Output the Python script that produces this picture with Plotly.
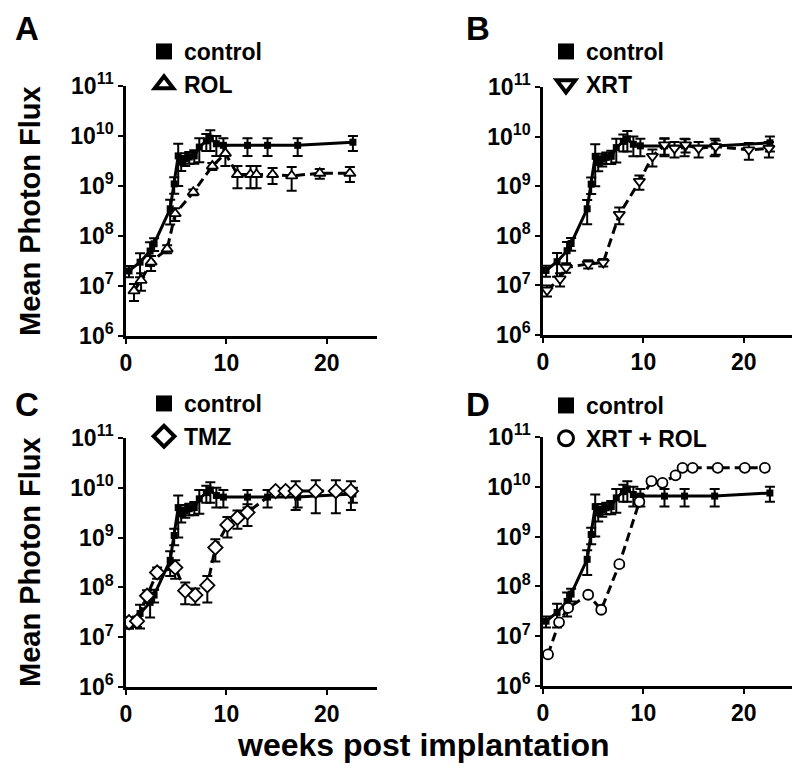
import plotly.graph_objects as go

# ---------------- data ----------------
weeks_control = [0.3, 1.4, 2.4, 2.8, 4.4, 4.8, 5.2, 5.5, 5.9, 6.3, 6.8, 7.3, 8.0, 8.4, 9.0, 9.7, 12.1, 14.1, 17.1, 22.6]
flux_control = [2e7, 3e7, 5e7, 7e7, 3.5e8, 1.1e9, 4e9, 3e9, 3.5e9, 3.8e9, 4e9, 6e9, 8e9, 9e9, 7e9, 6.5e9, 6.5e9, 6.5e9, 6.5e9, 7.5e9]
err_control = [5e6, 1.5e7, 2.5e7, 2e7, 1.8e8, 4e8, 3e9, 1e9, 1e9, 1e9, 1.2e9, 3e9, 3e9, 4e9, 3e9, 2.5e9, 2.5e9, 2.5e9, 2.5e9, 2.5e9]

weeks_rol = [0.8, 1.5, 2.5, 4.1, 4.9, 6.7, 8.6, 9.9, 11.1, 12.4, 13.0, 14.6, 16.5, 19.3, 22.3]
flux_rol = [8e6, 1.3e7, 3e7, 5.5e7, 2.8e8, 7.5e8, 2.5e9, 4.5e9, 1.7e9, 1.7e9, 1.7e9, 1.7e9, 1.6e9, 1.8e9, 1.8e9]
err_rol = [3e6, 5e6, 1e7, 1e7, 8e7, 1e8, 4e8, 2e9, 8e8, 8e8, 8e8, 6e8, 8e8, 4e8, 6e8]

weeks_xrt = [0.4, 1.7, 2.3, 4.5, 6.0, 7.6, 9.6, 10.9, 12.1, 13.1, 14.2, 15.5, 17.2, 20.5, 22.5]
flux_xrt = [8e6, 1.35e7, 2.3e7, 2.7e7, 2.9e7, 2.7e8, 1.25e9, 4e9, 6.8e9, 5.8e9, 6.8e9, 5.8e9, 6.3e9, 5.4e9, 5.8e9]
err_xrt = [2e6, 4e6, 5e6, 5e6, 5e6, 1e8, 4e8, 1.5e9, 2.5e9, 2e9, 2e9, 2e9, 2e9, 2e9, 2e9]

weeks_tmz = [0.3, 1.1, 2.1, 3.1, 4.9, 5.9, 6.9, 8.1, 8.9, 10.1, 11.1, 12.1, 14.9, 15.9, 16.9, 18.9, 20.9, 22.4]
flux_tmz = [2e7, 2.1e7, 6.8e7, 2e8, 2.5e8, 8.6e7, 7e7, 1.1e8, 6.3e8, 1.8e9, 2.5e9, 3.2e9, 8.6e9, 8.6e9, 8.6e9, 8.6e9, 8.6e9, 8.6e9]
err_tmz = [5e6, 5e6, 2e7, 5e7, 1e8, 4e7, 2.5e7, 6e7, 3e8, 8e8, 1e9, 1.5e9, 1e9, 1e9, 5e9, 5.5e9, 5.5e9, 5e9]

weeks_xrtrol = [0.5, 1.6, 2.5, 4.5, 5.8, 7.6, 9.6, 10.8, 11.9, 13.2, 13.9, 14.9, 17.4, 20.1, 22.1]
flux_xrtrol = [4.3e6, 1.9e7, 3.7e7, 6.8e7, 3.4e7, 2.8e8, 5e9, 1.3e10, 1.2e10, 1.7e10, 2.4e10, 2.4e10, 2.4e10, 2.4e10, 2.4e10]
err_xrtrol = [4e5, 2e6, 4e6, 7e6, 3e6, 3e7, 5e8, 1.3e9, 1.2e9, 1.7e9, 2.4e9, 2.4e9, 2.4e9, 2.4e9, 2.4e9]

panel_letters = ["A", "B", "C", "D"]
treat_names = ["ROL", "XRT", "TMZ", "XRT + ROL"]
y_tickvals = [1e6, 1e7, 1e8, 1e9, 1e10, 1e11]
y_ticktext = ["10<sup>6</sup>", "10<sup>7</sup>", "10<sup>8</sup>", "10<sup>9</sup>", "10<sup>10</sup>", "10<sup>11</sup>"]
x_tickvals = [0, 10, 20]

# ---------------- layout geometry ----------------
OFF = 8                      # page body margin of the html page
W, H = 800 - OFF, 775 - OFF
FONT = "Arial, Liberation Sans, sans-serif"


def px(x):
    return (x - OFF) / W


def py(y):
    return 1 - (y - OFF) / H


treat_data = [(weeks_rol, flux_rol, err_rol), (weeks_xrt, flux_xrt, err_xrt),
              (weeks_tmz, flux_tmz, err_tmz), (weeks_xrtrol, flux_xrtrol, err_xrtrol)]
treat_symbols = ["triangle-up", "triangle-down", "diamond", "circle"]
treat_sizes = [10, 10, 11, 10]
legend_sizes = [16, 16, 18, 15]
legend_lw = [4, 4, 4, 3]
# pixel boxes in window coords (left, right, top, bottom)
boxes = [(126, 377, 86, 336), (543, 794, 87, 335), (126, 377, 438, 687), (543, 794, 437, 686)]
legend_pos = [(144, 30), (546, 30), (144, 382), (546, 384)]
letter_pos = [(27, 8), (478, 8), (27, 384), (478, 384)]

fig = go.Figure()
layout = {}
for i in range(4):
    sx = "" if i == 0 else str(i + 1)
    xa, ya = "x" + sx, "y" + sx
    lg = "legend" + sx
    l, r, t, b = boxes[i]
    common = dict(showline=True, linecolor="black", linewidth=2.5, ticks="outside",
                  tickwidth=2, ticklen=5, tickcolor="black", showgrid=False, zeroline=False,
                  automargin=False,
                  tickfont=dict(family=FONT, size=23, color="black", weight="bold"))
    layout["xaxis" + sx] = dict(common, domain=[px(l), px(r)], anchor=ya, range=[0, 25],
                                tickvals=x_tickvals, ticktext=[str(v) for v in x_tickvals])
    layout["yaxis" + sx] = dict(common, domain=[py(b), py(t)], anchor=xa, type="log",
                                range=[6, 11], tickvals=y_tickvals, ticktext=y_ticktext)
    lx, ly = legend_pos[i]
    layout[lg] = dict(x=px(lx), y=py(ly), xanchor="left", yanchor="top",
                      xref="container", yref="container",
                      bgcolor="rgba(0,0,0,0)", tracegroupgap=0,
                      font=dict(family=FONT, size=23, color="black", weight="bold"))

    # control
    fig.add_trace(go.Scatter(x=weeks_control, y=flux_control, xaxis=xa, yaxis=ya,
                             mode="lines+markers", showlegend=False,
                             line=dict(color="black", width=3),
                             marker=dict(symbol="square", size=7, color="black"),
                             error_y=dict(type="data", array=err_control, color="black",
                                          thickness=2, width=5)))
    wk, fl, er = treat_data[i]
    fig.add_trace(go.Scatter(x=wk, y=fl, xaxis=xa, yaxis=ya, mode="lines+markers",
                             showlegend=False,
                             line=dict(color="black", width=3, dash="9px,5px"),
                             marker=dict(symbol=treat_symbols[i], size=treat_sizes[i], color="white",
                                         line=dict(color="black", width=1.8)),
                             error_y=dict(type="data", array=er, color="black",
                                          thickness=2, width=5)))
    # legend entries
    fig.add_trace(go.Scatter(x=[None], y=[None], xaxis=xa, yaxis=ya, mode="markers",
                             name="control", legend=lg,
                             marker=dict(symbol="square", size=16, color="black")))
    fig.add_trace(go.Scatter(x=[None], y=[None], xaxis=xa, yaxis=ya, mode="markers",
                             name=treat_names[i], legend=lg,
                             marker=dict(symbol=treat_symbols[i], size=legend_sizes[i], color="white",
                                         line=dict(color="black", width=legend_lw[i]))))

annotations = []
for i in range(4):
    x, y = letter_pos[i]
    annotations.append(dict(text=panel_letters[i], x=px(x), y=py(y), xref="paper", yref="paper",
                            showarrow=False, xanchor="center", yanchor="top",
                            font=dict(family=FONT, size=33, color="black", weight="bold")))
for yc in [211, 562]:
    annotations.append(dict(text="Mean Photon Flux", x=px(30), y=py(yc), xref="paper", yref="paper",
                            showarrow=False, textangle=-90, xanchor="center", yanchor="middle",
                            font=dict(family=FONT, size=29, color="black", weight="bold")))
annotations.append(dict(text="weeks post implantation", x=px(423), y=py(745), xref="paper", yref="paper",
                        showarrow=False, xanchor="center", yanchor="middle",
                        font=dict(family=FONT, size=32, color="black", weight="bold")))

fig.update_layout(width=W, height=H, margin=dict(l=0, r=0, t=0, b=0, autoexpand=False),
                  paper_bgcolor="white", plot_bgcolor="white",
                  annotations=annotations, **layout)
fig.write_html("out.html")
